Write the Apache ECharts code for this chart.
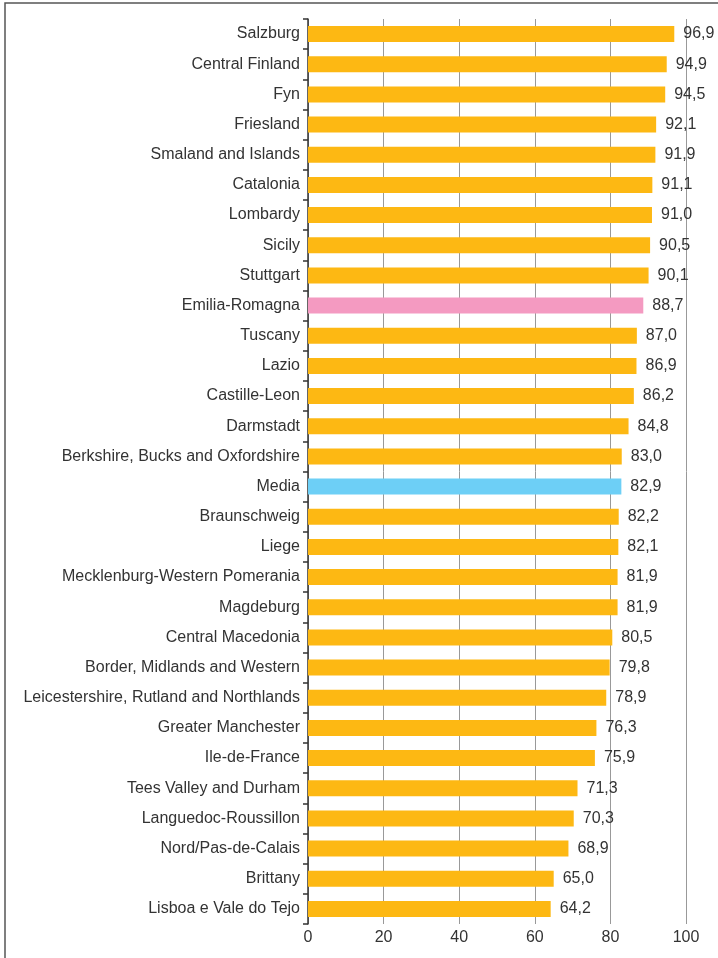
<!DOCTYPE html>
<html>
<head>
<meta charset="utf-8">
<script src="https://cdn.jsdelivr.net/npm/echarts@6/dist/echarts.min.js"></script>
<style>
  html, body { margin: 0; padding: 0; background: #fff; }
  .echarts { width: 718px; height: 958px; }
</style>
</head>
<body>
<div class="echarts"></div>
<script>
const regions = ['Salzburg', 'Central Finland', 'Fyn', 'Friesland', 'Smaland and Islands', 'Catalonia',
    'Lombardy', 'Sicily', 'Stuttgart', 'Emilia-Romagna', 'Tuscany', 'Lazio', 'Castille-Leon', 'Darmstadt',
    'Berkshire, Bucks and Oxfordshire', 'Media', 'Braunschweig', 'Liege', 'Mecklenburg-Western Pomerania',
    'Magdeburg', 'Central Macedonia', 'Border, Midlands and Western', 'Leicestershire, Rutland and Northlands',
    'Greater Manchester', 'Ile-de-France', 'Tees Valley and Durham', 'Languedoc-Roussillon',
    'Nord/Pas-de-Calais', 'Brittany', 'Lisboa e Vale do Tejo'];
const values = [96.9, 94.9, 94.5, 92.1, 91.9, 91.1, 91.0, 90.5, 90.1, 88.7, 87.0, 86.9, 86.2, 84.8,
    83.0, 82.9, 82.2, 82.1, 81.9, 81.9, 80.5, 79.8, 78.9, 76.3, 75.9, 71.3, 70.3, 68.9, 65.0, 64.2];
const xTicks = [0, 20, 40, 60, 80, 100];

const highlight = { 'Emilia-Romagna': '#f49ac1', 'Media': '#6dcff6' };
const font = '"Liberation Sans Narrow", "Liberation Sans", sans-serif';

window.addEventListener('load', function () {
    let myChart = echarts.init(document.querySelector('.echarts'));
    let myChartOption = {
        animation: false,
        graphic: [{
            type: 'rect',
            shape: { x: 5, y: 3, width: 740, height: 990 },
            style: { fill: 'none', stroke: '#555', lineWidth: 1.5 }
        }],
        grid: { left: 308, right: 32, top: 19, bottom: 34 },
        xAxis: {
            type: 'value',
            min: xTicks[0],
            max: xTicks[xTicks.length - 1],
            interval: 20,
            axisLine: { show: false },
            axisTick: { show: false },
            axisLabel: { color: '#333', fontSize: 16, fontFamily: font, margin: 6 },
            splitLine: { lineStyle: { color: '#999', width: 1 } }
        },
        yAxis: {
            type: 'category',
            inverse: true,
            data: regions,
            axisLine: { lineStyle: { color: '#333', width: 1.5 } },
            axisTick: { show: true, length: 5, lineStyle: { color: '#333', width: 1.5 } },
            axisLabel: { color: '#333', fontSize: 16, fontFamily: font, margin: 8 }
        },
        series: [{
            type: 'bar',
            barWidth: 16,
            data: values.map(function (v, i) {
                return {
                    value: v,
                    itemStyle: { color: highlight[regions[i]] || '#fdb813' }
                };
            }),
            label: {
                show: true,
                position: 'right',
                distance: 9,
                color: '#333',
                fontSize: 16,
                fontFamily: font,
                formatter: function (p) { return p.value.toFixed(1).replace('.', ','); }
            }
        }]
    };
    myChart.setOption(myChartOption);
});
</script>
</body>
</html>
